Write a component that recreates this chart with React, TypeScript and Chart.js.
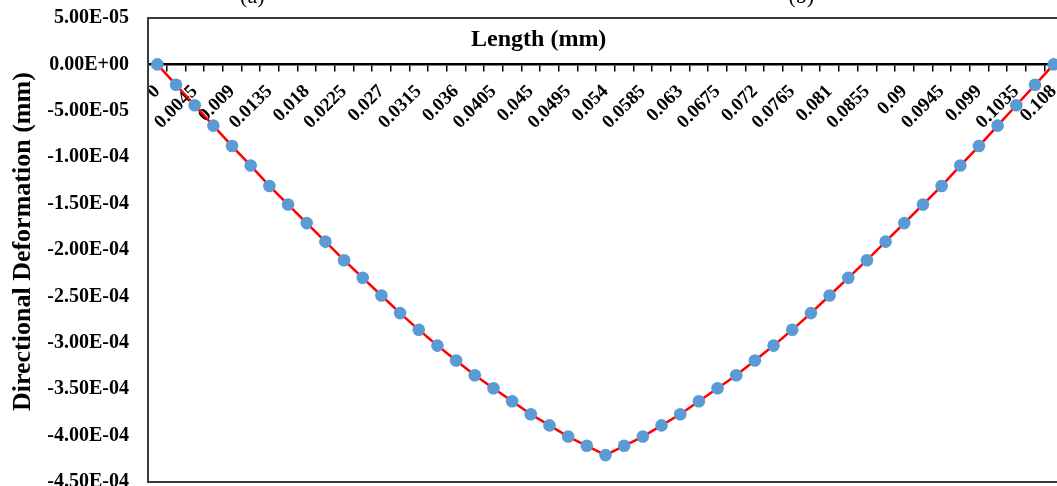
import React, { useEffect, useRef } from 'react';
import { Chart, registerables } from 'chart.js';

Chart.register(...registerables);

// Category positions along the length (mm)
const categories = [
  0, 0.00225, 0.0045, 0.00675, 0.009, 0.01125, 0.0135, 0.01575, 0.018, 0.02025,
  0.0225, 0.02475, 0.027, 0.02925, 0.0315, 0.03375, 0.036, 0.03825, 0.0405, 0.04275,
  0.045, 0.04725, 0.0495, 0.05175, 0.054, 0.05625, 0.0585, 0.06075, 0.063, 0.06525,
  0.0675, 0.06975, 0.072, 0.07425, 0.0765, 0.07875, 0.081, 0.08325, 0.0855, 0.08775,
  0.09, 0.09225, 0.0945, 0.09675, 0.099, 0.10125, 0.1035, 0.10575, 0.108,
];

// Labels shown on every other category
const tickLabels = [
  '0', '0.0045', '0.009', '0.0135', '0.018', '0.0225', '0.027', '0.0315', '0.036',
  '0.0405', '0.045', '0.0495', '0.054', '0.0585', '0.063', '0.0675', '0.072', '0.0765',
  '0.081', '0.0855', '0.09', '0.0945', '0.099', '0.1035', '0.108',
];

// Directional deformation (mm)
const deformation = [
  0, -2.2e-5, -4.4e-5, -6.6e-5, -8.8e-5, -1.09e-4, -1.31e-4, -1.51e-4, -1.71e-4, -1.91e-4,
  -2.11e-4, -2.3e-4, -2.49e-4, -2.68e-4, -2.86e-4, -3.03e-4, -3.19e-4, -3.35e-4, -3.49e-4, -3.63e-4,
  -3.77e-4, -3.89e-4, -4.01e-4, -4.11e-4, -4.21e-4, -4.11e-4, -4.01e-4, -3.89e-4, -3.77e-4, -3.63e-4,
  -3.49e-4, -3.35e-4, -3.19e-4, -3.03e-4, -2.86e-4, -2.68e-4, -2.49e-4, -2.3e-4, -2.11e-4, -1.91e-4,
  -1.71e-4, -1.51e-4, -1.31e-4, -1.09e-4, -8.8e-5, -6.6e-5, -4.4e-5, -2.2e-5, 0,
];

const yMin = -4.5e-4;
const yMax = 5e-5;
const yStep = 5e-5;

const xTitle = 'Length (mm)';
const yTitle = 'Directional Deformation (mm)';
const panelLabels = ['(a)', '(b)'];

const SERIF = '"Liberation Serif", "Times New Roman", serif';

function fmtExp(v: number): string {
  const s = v.toExponential(2).toUpperCase();
  const [m, e] = s.split('E');
  const sign = e.startsWith('-') ? '-' : '+';
  const digits = e.replace(/[+-]/, '').padStart(2, '0');
  return `${m}E${sign}${digits}`;
}

const decorPlugin = {
  id: 'decor',
  beforeDatasetsDraw(chart: any) {
    const { ctx, chartArea } = chart;
    ctx.save();
    ctx.strokeStyle = '#3a3a3a';
    ctx.lineWidth = 2;
    ctx.strokeRect(chartArea.left, chartArea.top, chartArea.right - chartArea.left, chartArea.bottom - chartArea.top);
    ctx.restore();
  },
  afterDraw(chart: any) {
    const { ctx, chartArea } = chart;
    const w = chartArea.right - chartArea.left;
    const h = chartArea.bottom - chartArea.top;
    ctx.save();
    ctx.fillStyle = '#000';
    // x-axis title inside plot, above the zero line
    ctx.font = `bold 24px ${SERIF}`;
    ctx.textAlign = 'center';
    ctx.textBaseline = 'alphabetic';
    ctx.fillText(xTitle, chartArea.left + w * 0.427, chartArea.top + 28);
    // y-axis title
    ctx.save();
    ctx.font = `bold 26px ${SERIF}`;
    ctx.translate(30, chartArea.top + h * 0.482);
    ctx.rotate(-Math.PI / 2);
    ctx.fillText(yTitle, 0, 0);
    ctx.restore();
    // partially visible panel labels from the figure above
    ctx.font = `22px ${SERIF}`;
    ctx.fillText(panelLabels[0], chartArea.left + w * 0.114, 3);
    ctx.fillText(panelLabels[1], chartArea.left + w * 0.714, 3);
    ctx.restore();
  },
};

export default function App() {
  const canvasRef = useRef<HTMLCanvasElement | null>(null);

  useEffect(() => {
    if (!canvasRef.current) return;
    const chart = new Chart(canvasRef.current, {
      type: 'line',
      data: {
        labels: categories,
        datasets: [
          {
            data: deformation,
            borderColor: '#FF0000',
            borderWidth: 2.5,
            pointRadius: 6.3,
            pointHoverRadius: 6.3,
            pointBackgroundColor: '#5B9BD5',
            pointBorderWidth: 0,
            tension: 0,
            clip: false as any,
          },
        ],
      },
      options: {
        animation: false,
        responsive: true,
        maintainAspectRatio: false,
        layout: { padding: { left: 0, top: 18, right: 17, bottom: 18 } },
        plugins: { legend: { display: false }, tooltip: { enabled: false } },
        scales: {
          x: {
            type: 'category',
            position: { y: 0 } as any,
            offset: true,
            grid: {
              offset: true,
              drawOnChartArea: false,
              drawTicks: true,
              tickLength: 6,
              color: '#000',
              lineWidth: 1.5,
            },
            border: { display: true, color: '#000', width: 2.5 },
            ticks: {
              autoSkip: false,
              minRotation: 45,
              maxRotation: 45,
              padding: 10,
              color: '#000',
              font: { family: SERIF, size: 19, weight: 'bold' },
              callback: (_v: any, i: number) => (i % 2 === 0 ? tickLabels[i / 2] : ''),
            },
            afterFit: (scale: any) => {
              scale.height = 0;
              scale.paddingLeft = 0;
              scale.paddingRight = 0;
              scale.paddingTop = 0;
              scale.paddingBottom = 0;
            },
          },
          y: {
            type: 'linear',
            min: yMin,
            max: yMax,
            grid: { display: false, drawTicks: false },
            border: { display: false },
            ticks: {
              stepSize: yStep,
              padding: 19,
              color: '#000',
              font: { family: SERIF, size: 20, weight: 'bold' },
              callback: (v: any) => fmtExp(Number(v)),
            },
            afterFit: (scale: any) => {
              scale.width = 148;
              scale.paddingTop = 0;
              scale.paddingBottom = 0;
            },
          },
        },
      },
      plugins: [decorPlugin],
    });
    return () => chart.destroy();
  }, []);

  return (
    <div
      style={{
        position: 'fixed',
        left: 0,
        top: 0,
        width: 1057,
        height: 486,
        overflow: 'hidden',
        background: '#fff',
      }}
    >
      <div style={{ position: 'absolute', left: 0, top: 0, width: 1080, height: 500 }}>
        <canvas ref={canvasRef} />
      </div>
    </div>
  );
}
